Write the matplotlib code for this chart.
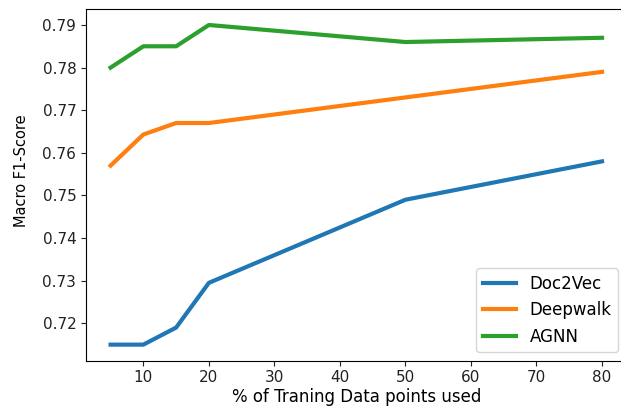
import matplotlib
matplotlib.use("Agg")
import matplotlib.pyplot as plt

# Training data share (%) and Macro F1 for each embedding method
train_pct = [5, 10, 15, 20, 50, 80]
doc2vec = [0.715, 0.715, 0.719, 0.7295, 0.749, 0.758]
deepwalk = [0.757, 0.7643, 0.767, 0.767, 0.773, 0.779]
agnn = [0.780, 0.785, 0.785, 0.790, 0.786, 0.787]

fig = plt.figure(figsize=(6.21, 4.09), dpi=100)
ax = fig.add_axes([0.1385, 0.1183, 0.8705, 0.8597])

ax.plot(train_pct, doc2vec, color="#1f77b4", lw=3, label="Doc2Vec")
ax.plot(train_pct, deepwalk, color="#ff7f0e", lw=3, label="Deepwalk")
ax.plot(train_pct, agnn, color="#2ca02c", lw=3, label="AGNN")

ax.tick_params(labelsize=11, colors="#222222")
ax.set_xlabel("% of Traning Data points used", fontsize=12, labelpad=2)
ax.set_ylabel("Macro F1-Score", fontsize=10.5)
ax.yaxis.set_label_coords(-0.105, 0.54)
ax.legend(loc="lower right", fontsize=12, handlelength=2.0)

fig.savefig("out.png", dpi=100)
